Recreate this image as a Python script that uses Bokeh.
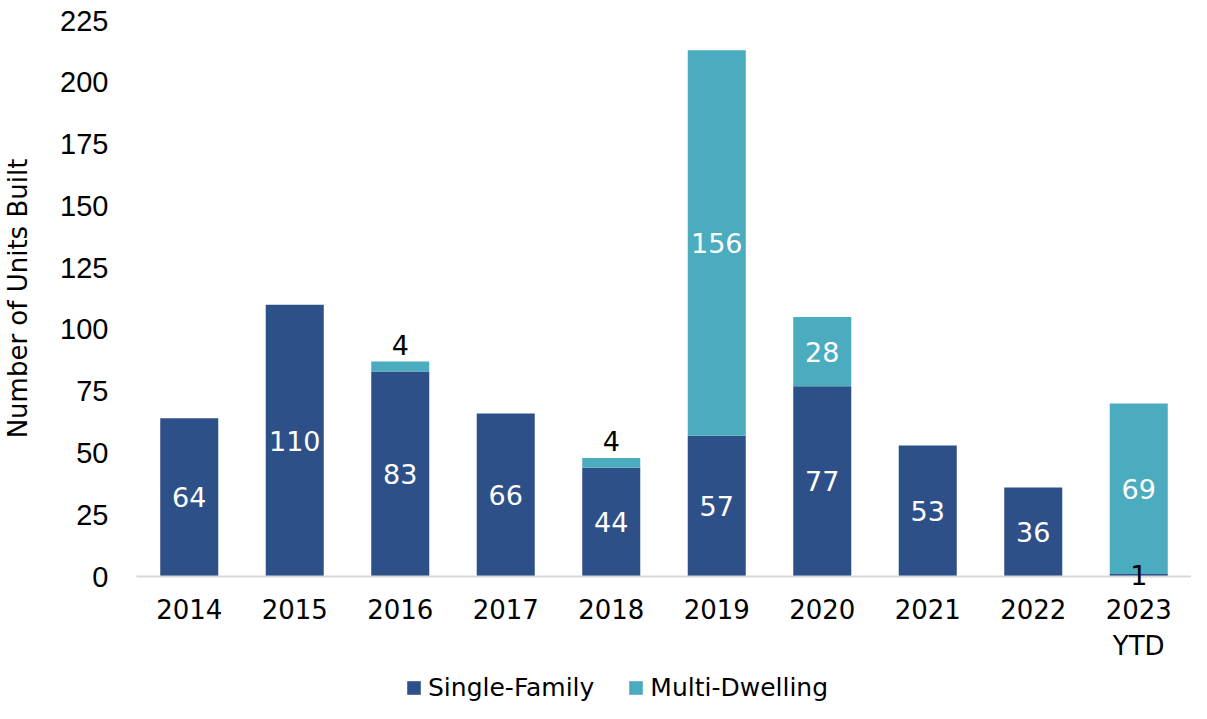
from bokeh.plotting import figure
from bokeh.layouts import column
from bokeh.models import ColumnDataSource, FactorRange, Range1d, Legend, LegendItem, FixedTicker
from bokeh.core.properties import value
from bokeh.embed import file_html
from bokeh.resources import INLINE

years = ["2014", "2015", "2016", "2017", "2018", "2019", "2020", "2021", "2022", "2023\nYTD"]
single_family = [64, 110, 83, 66, 44, 57, 77, 53, 36, 1]
multi_dwelling = [0, 0, 4, 0, 4, 156, 28, 0, 0, 69]
y_ticks = [0, 25, 50, 75, 100, 125, 150, 175, 200, 225]
series_names = ["Single-Family", "Multi-Dwelling"]

SF_COLOR = "#2E5089"
MD_COLOR = "#4BACBF"
FONT = "DejaVu Sans"

p = figure(width=1191, height=664, x_range=FactorRange(*years, range_padding=0),
           y_range=Range1d(0, 225), output_backend="svg", toolbar_location=None,
           min_border_left=136, min_border_right=0, min_border_top=20, min_border_bottom=88)

src = ColumnDataSource(dict(x=years, sf=single_family, md=multi_dwelling))
r = p.vbar_stack(["sf", "md"], x="x", width=0.55, source=src, color=[SF_COLOR, MD_COLOR],
                 line_color=None)

# data labels inside segments
lx, ly, lt, lc = [], [], [], []
for yr, s, m in zip(years, single_family, multi_dwelling):
    if s > 0:
        lx.append(yr); ly.append(s / 2); lt.append(str(s))
        lc.append("white" if s >= 10 else "black")
for yr, s, m in zip(years, single_family, multi_dwelling):
    if m >= 10:
        lx.append(yr); ly.append(s + m / 2); lt.append(str(m)); lc.append("white")
lab = ColumnDataSource(dict(x=lx, y=ly, t=lt, c=lc))
p.text(x="x", y="y", text="t", text_color="c", source=lab, text_align="center",
       text_baseline="middle", text_font=value(FONT), text_font_size=value("27px"),
       level="overlay")

# small segment labels above the stack
sx, sy, st = [], [], []
for yr, s, m in zip(years, single_family, multi_dwelling):
    if 0 < m < 10:
        sx.append(yr); sy.append(s + m); st.append(str(m))
small = ColumnDataSource(dict(x=sx, y=sy, t=st))
p.text(x="x", y="y", text="t", text_color="black", source=small, text_align="center",
       text_baseline="bottom", y_offset=-7, text_font=value(FONT), text_font_size=value("27px"))

p.xgrid.visible = False
p.ygrid.visible = False
p.outline_line_color = None

p.xaxis.axis_line_color = "#D9D9D9"
p.xaxis.axis_line_width = 2
p.xaxis.major_tick_line_color = None
p.xaxis.minor_tick_line_color = None
p.xaxis.major_label_text_font = FONT
p.xaxis.major_label_text_font_size = "26px"
p.xaxis.major_label_text_color = "black"
p.xaxis.major_label_standoff = 12

p.yaxis.ticker = FixedTicker(ticks=y_ticks)
p.yaxis.axis_line_color = None
p.yaxis.major_tick_line_color = None
p.yaxis.minor_tick_line_color = None
p.yaxis.major_label_text_font = "Liberation Sans"
p.yaxis.major_label_text_font_size = "29px"
p.yaxis.major_label_text_color = "black"
p.yaxis.major_label_standoff = 22
p.yaxis.axis_label = "Number of Units Built"
p.yaxis.axis_label_text_font = FONT
p.yaxis.axis_label_text_font_size = "26px"
p.yaxis.axis_label_text_font_style = "normal"
p.yaxis.axis_label_text_color = "black"
p.yaxis.axis_label_standoff = 24

# legend strip below the chart (its frame is aligned with the chart's frame)
lg = figure(width=1191, height=39, x_range=Range1d(0, 1), y_range=Range1d(0, 1),
            output_backend="svg", toolbar_location=None, min_border=0)
lg.axis.visible = False
lg.grid.visible = False
lg.outline_line_color = None
key_src = ColumnDataSource(dict(x=[5], top=[0]))
k1 = lg.vbar(x="x", top="top", width=0.1, source=key_src, fill_color=SF_COLOR, line_color=None)
k2 = lg.vbar(x="x", top="top", width=0.1, source=key_src, fill_color=MD_COLOR, line_color=None)
legend = Legend(items=[LegendItem(label=series_names[0], renderers=[k1]),
                       LegendItem(label=series_names[1], renderers=[k2])],
                orientation="horizontal", location=(269, 1),
                border_line_color=None, background_fill_alpha=0,
                label_text_font=FONT, label_text_font_size="25px", label_text_color="black",
                glyph_width=17, glyph_height=17, label_standoff=6, spacing=33,
                padding=0, margin=0)
lg.add_layout(legend, "center")

open("out.html", "w").write(file_html(column(p, lg, spacing=0), INLINE))
